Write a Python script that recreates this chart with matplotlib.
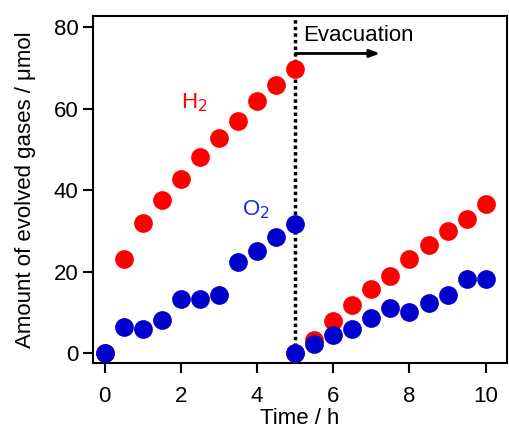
import matplotlib
matplotlib.use("Agg")
import matplotlib.pyplot as plt

plt.rcParams["font.family"] = ["Liberation Sans", "DejaVu Sans"]

# ---- data ------------------------------------------------------------------
time_h = [0, 0.5, 1, 1.5, 2, 2.5, 3, 3.5, 4, 4.5, 5,
          5, 5.5, 6, 6.5, 7, 7.5, 8, 8.5, 9, 9.5, 10]
h2_umol = [0, 23.1, 32.0, 37.5, 42.7, 48.2, 52.8, 57.1, 62.0, 65.8, 69.9,
           0, 3.3, 7.9, 11.8, 15.7, 19.0, 23.1, 26.5, 29.9, 33.0, 36.6]
o2_umol = [0, 6.4, 5.9, 8.2, 13.2, 13.4, 14.2, 22.4, 25.0, 28.5, 31.8,
           0, 2.2, 4.5, 5.9, 8.6, 11.0, 10.1, 12.3, 14.3, 18.3, 18.3]
x_ticks = [0, 2, 4, 6, 8, 10]
y_ticks = [0, 20, 40, 60, 80]
evac_time = 5

fig = plt.figure(figsize=(5.09, 4.30), dpi=100)
ax = fig.add_axes([0.1827, 0.1558, 0.8133, 0.807])

ax.plot(time_h, h2_umol, "o", color="#ff0000", ms=13.5, mec="none", zorder=3)
ax.plot(time_h, o2_umol, "o", color="#0000cc", ms=13.5, mec="none", zorder=4)

ax.vlines(evac_time, 0, 83, color="black", lw=2.5, linestyles=(0, (1, 0.9)), zorder=2)
ax.annotate("", xy=(7.23, 73.6), xytext=(evac_time, 73.6),
            arrowprops=dict(arrowstyle="-|>,head_length=0.6,head_width=0.22",
                            color="black", lw=2, shrinkA=0, shrinkB=0))
ax.text(5.2, 76.7, "Evacuation", fontsize=16, ha="left", va="baseline")
ax.text(2.0, 60.2, "H$_2$", color="#ff0000", fontsize=16, va="baseline")
ax.text(3.59, 33.9, "O$_2$", color="#1030e0", fontsize=16, va="baseline")

ax.set_xlim(-0.31, 10.56)
ax.set_ylim(-2.4, 82.8)
ax.set_xticks(x_ticks)
ax.set_yticks(y_ticks)
ax.tick_params(direction="out", length=7.5, width=1.5, labelsize=16)
ax.tick_params(axis="x", pad=9)
ax.tick_params(axis="y", pad=3)
for sp in ax.spines.values():
    sp.set_linewidth(1.5)
ax.set_xlabel("Time / h", fontsize=16, labelpad=1)
ax.set_ylabel("Amount of evolved gases / μmol", fontsize=16, labelpad=13)

fig.savefig("out.png", dpi=100)
